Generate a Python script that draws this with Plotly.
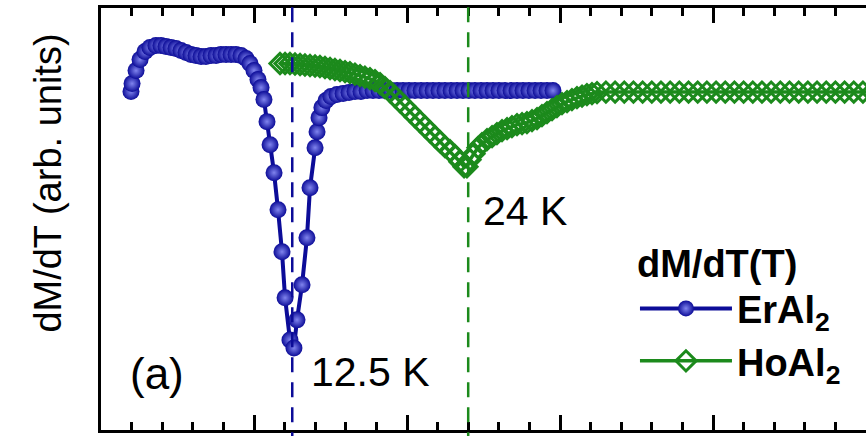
import plotly.graph_objects as go

# ErAl2 dM/dT (temperature K, arb. units)
er_T = [1.96, 2.03, 2.29, 2.55, 2.88, 3.20, 3.59, 3.92, 4.25, 4.58, 4.90, 5.23, 5.56, 5.88,
        6.21, 6.54, 6.86, 7.19, 7.52, 7.84, 8.17, 8.50, 8.82, 9.15, 9.48, 9.74, 10.00, 10.26,
        10.46, 10.65, 10.85, 11.05, 11.31, 11.57, 11.83, 12.03, 12.35, 12.61, 12.81, 13.14,
        13.46, 13.66, 13.99, 14.12, 14.25, 14.44, 14.71, 15.03, 15.42, 15.82, 16.21, 16.60,
        16.99, 17.39, 17.78, 18.17, 18.56, 18.95, 19.35, 19.74, 20.13, 20.52, 20.92, 21.31,
        21.70, 22.09, 22.48, 22.88, 23.27, 23.66, 24.05, 24.44, 24.84, 25.23, 25.62, 26.01,
        26.41, 26.80, 27.19, 27.58, 27.97, 28.37, 28.76, 29.15, 29.54]
er_y = [0.1, 0.9, 2.2, 3.3, 4.1, 4.5, 4.7, 4.7, 4.6, 4.5, 4.4, 4.2, 4.0, 3.8,
        3.7, 3.6, 3.6, 3.7, 3.7, 3.8, 3.8, 3.8, 3.8, 3.7, 3.4, 2.9, 2.2, 1.3,
        0.5, -0.7, -2.9, -5.2, -8.0, -11.7, -15.9, -20.5, -24.7, -25.5, -22.7, -19.2,
        -14.5, -9.5, -5.5, -3.9, -2.5, -1.5, -0.8, -0.4, -0.2, -0.1, 0.0, 0.1,
        0.1, 0.2, 0.2, 0.2, 0.2, 0.2, 0.2, 0.2, 0.2, 0.2, 0.2, 0.2,
        0.2, 0.2, 0.2, 0.2, 0.2, 0.2, 0.2, 0.2, 0.2, 0.2, 0.2, 0.2,
        0.2, 0.2, 0.2, 0.2, 0.2, 0.2, 0.2, 0.2, 0.2]

# HoAl2 dM/dT (temperature K, arb. units)
ho_T = [11.70, 12.03, 12.35, 12.68, 13.01, 13.33, 13.66, 13.99, 14.31, 14.64, 14.97, 15.29,
        15.62, 15.95, 16.27, 16.60, 16.93, 17.25, 17.58, 17.91, 18.24, 18.56, 18.89, 19.22,
        19.54, 19.87, 20.20, 20.52, 20.85, 21.18, 21.50, 21.83, 22.16, 22.48, 22.81, 23.14,
        23.46, 23.73, 23.92, 24.12, 24.38, 24.64, 24.90, 25.23, 25.56, 25.88, 26.21, 26.54,
        26.86, 27.19, 27.52, 27.84, 28.17, 28.50, 28.82, 29.15, 29.48, 29.80, 30.13, 30.46,
        30.78, 31.11, 31.44, 31.76, 32.09, 32.42, 33.0, 33.6, 34.2, 34.8, 35.4, 36.0,
        36.6, 37.2, 37.8, 38.4, 39.0, 39.6, 40.2, 40.8, 41.4, 42.0, 42.6, 43.2,
        43.8, 44.4, 45.0, 45.6, 46.2, 46.8, 47.4, 48.0, 48.6, 49.2, 49.8, 50.4]
ho_y = [2.9, 2.9, 2.9, 2.85, 2.8, 2.75, 2.7, 2.65, 2.6, 2.5, 2.4, 2.3,
        2.2, 2.1, 2.0, 1.85, 1.7, 1.55, 1.4, 1.2, 0.9, 0.5, 0.1, -0.4,
        -0.9, -1.4, -1.9, -2.4, -2.9, -3.4, -3.9, -4.4, -4.9, -5.4, -5.8, -6.3,
        -6.9, -7.4, -7.4, -6.7, -6.1, -5.5, -5.1, -4.7, -4.4, -4.1, -3.8, -3.6,
        -3.4, -3.2, -3.1, -3.0, -2.8, -2.6, -2.3, -2.0, -1.7, -1.4, -1.1, -0.9,
        -0.7, -0.5, -0.35, -0.2, -0.1, 0.0, 0.05, 0.05, 0.05, 0.05, 0.05, 0.05,
        0.05, 0.05, 0.05, 0.05, 0.05, 0.05, 0.05, 0.05, 0.05, 0.05, 0.05, 0.05,
        0.05, 0.05, 0.05, 0.05, 0.05, 0.05, 0.05, 0.05, 0.05, 0.05, 0.05, 0.05]

# transition temperatures marked by dashed lines
trans_T = [12.5, 24.0]
trans_labels = ["12.5 K", "24 K"]

BLUE = "#0c0c98"
GREEN = "#1c8a1c"
FONT = "Liberation Sans, Arial, sans-serif"

fig = go.Figure()

fig.add_trace(go.Scatter(
    x=er_T, y=er_y, mode="lines+markers", name="ErAl<sub>2</sub>",
    line=dict(color=BLUE, width=4),
    marker=dict(symbol="circle", size=17, color=BLUE,
                gradient=dict(type="radial", color="#8084ee"),
                line=dict(width=0)),
))
fig.add_trace(go.Scatter(
    x=ho_T, y=ho_y, mode="lines+markers", name="HoAl<sub>2</sub>",
    line=dict(color=GREEN, width=3.5),
    marker=dict(symbol="diamond-open", size=15.5, color=GREEN,
                line=dict(width=3, color=GREEN)),
))

colors = [BLUE, GREEN]
for t, c in zip(trans_T, colors):
    fig.add_shape(type="line", xref="x", yref="paper", x0=t, x1=t, y0=-0.1, y1=1.03,
                  line=dict(color=c, width=2.5, dash="15px,10px"), layer="above")

fig.add_annotation(x=13.6, y=-27.9, xref="x", yref="y", text=trans_labels[0],
                   showarrow=False, xanchor="left", yanchor="middle",
                   font=dict(family=FONT, size=41, color="black"))
fig.add_annotation(x=24.85, y=-11.8, xref="x", yref="y", text=trans_labels[1],
                   showarrow=False, xanchor="left", yanchor="middle",
                   font=dict(family=FONT, size=41, color="black"))
fig.add_annotation(x=3.66, y=-28.05, xref="x", yref="y", text="(a)",
                   showarrow=False, xanchor="center", yanchor="middle",
                   font=dict(family=FONT, size=44, color="black"))
fig.add_annotation(x=-0.0705, y=0.584, xref="paper", yref="paper",
                   text="dM/dT (arb. units)", textangle=-90,
                   showarrow=False, xanchor="center", yanchor="middle",
                   font=dict(family=FONT, size=38, color="black"))

fig.update_layout(
    width=866, height=436,
    margin=dict(l=101, r=0, t=8, b=6),
    paper_bgcolor="white", plot_bgcolor="white",
    font=dict(family=FONT, color="black"),
    showlegend=True,
    legend=dict(
        x=0.698, y=0.479, xanchor="left", yanchor="top",
        bgcolor="rgba(0,0,0,0)",
        font=dict(family=FONT, size=38, color="black", weight="bold"),
        title=dict(text="dM/dT(T)", font=dict(family=FONT, size=38, color="black", weight="bold")),
        itemwidth=92, tracegroupgap=0,
    ),
    xaxis=dict(
        range=[0, 50], showline=True, linewidth=3, linecolor="black",
        mirror="allticks", ticks="inside", ticklen=15, tickwidth=2.5, tickcolor="black",
        tick0=0, dtick=10, showticklabels=False, showgrid=False, zeroline=False,
        minor=dict(ticks="inside", ticklen=8, tickwidth=2.5, tickcolor="black",
                   dtick=2, showgrid=False),
    ),
    yaxis=dict(
        range=[-33.7, 8.45], showline=True, linewidth=3, linecolor="black",
        ticks="", showticklabels=False, showgrid=False, zeroline=False,
    ),
)

fig.write_html("out.html")
